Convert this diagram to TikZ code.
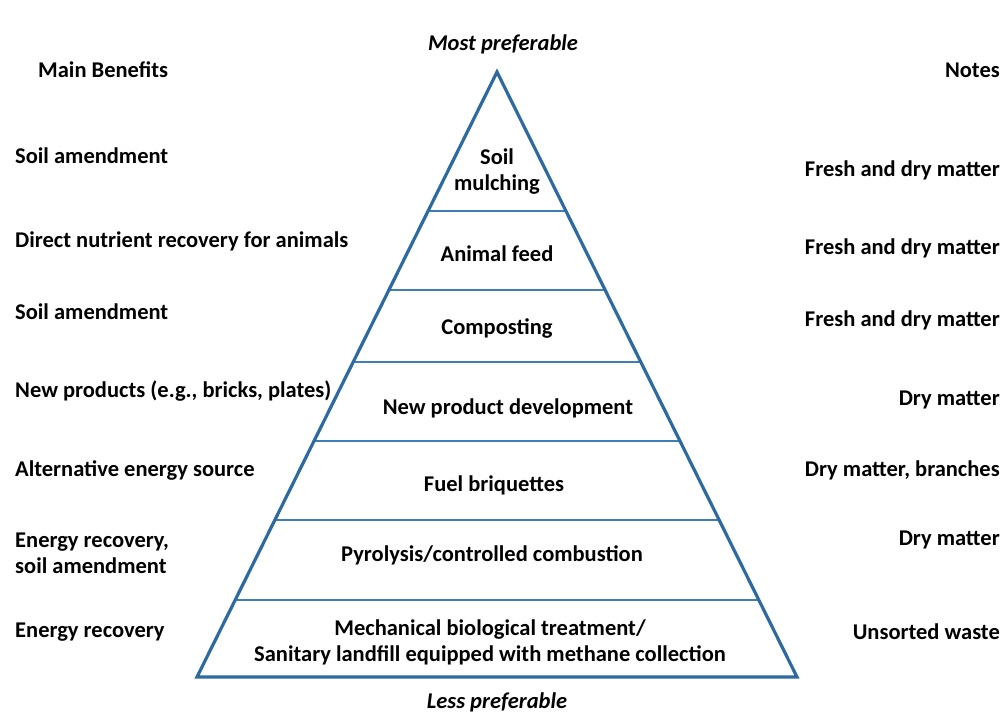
\documentclass[tikz,border=0pt]{standalone}
\usepackage{fontspec}
\setmainfont{Carlito}
\usetikzlibrary{calc}
\definecolor{edgeblue}{RGB}{45,106,159}
\definecolor{lineblue}{RGB}{62,125,182}
\tikzset{
  lbl/.style={font=\fontsize{22.5}{26}\selectfont\bfseries, inner sep=0pt},
  benefit/.style={lbl, anchor=west, align=left},
  note/.style={lbl, anchor=east, align=right},
  tier/.style={lbl, align=center},
}
\begin{document}
\begin{tikzpicture}[x=1pt,y=-1pt]
\useasboundingbox (0,0) rectangle (1004,713);

% pyramid
\coordinate (top) at (497,72);
\coordinate (bl) at (197,677);
\coordinate (br) at (797,677);
\foreach \y/\n in {211/a,290/b,362/c,441/d,520/e,600/f}{
  \coordinate (l\n) at ($(top)!{(\y-72)/605}!(bl)$);
  \coordinate (r\n) at ($(top)!{(\y-72)/605}!(br)$);
  \draw[lineblue, line width=2pt] (l\n) -- (r\n);
}
\draw[edgeblue, line width=3.2pt, line join=miter] (top) -- (bl) -- (br) -- cycle;

\node[lbl, font=\fontsize{22.5}{26}\selectfont\bfseries\itshape] (most) at (503,44) {Most preferable};
\node[lbl, font=\fontsize{22.5}{26}\selectfont\bfseries\itshape] (less) at (497,702) {Less preferable};

% headings
\node[benefit] (mainhead) at (38,70) {Main Benefits};
\node[note] (notehead) at (1000,70) {Notes};

% tiers
\node[tier] (mulch) at (497,172) {Soil\\mulching};
\node[tier] (feed) at (497,254) {Animal feed};
\node[tier] (compost) at (497,328) {Composting};
\node[tier] (newprod) at (508,408) {New product development};
\node[tier] (fuel) at (494,485) {Fuel briquettes};
\node[tier] (pyro) at (492,555) {Pyrolysis/controlled combustion};
\node[tier] (mbt) at (490,642) {Mechanical biological treatment/\\Sanitary landfill equipped with methane collection};

% benefits
\node[benefit] (b1) at (15,156) {Soil amendment};
\node[benefit] (b2) at (15,241) {Direct nutrient recovery for animals};
\node[benefit] (b3) at (15,312) {Soil amendment};
\node[benefit] (b4) at (15,391) {New products (e.g., bricks, plates)};
\node[benefit] (b5) at (15,470) {Alternative energy source};
\node[benefit] (b6) at (15,553) {Energy recovery,\\soil amendment};
\node[benefit] (b7) at (15,632) {Energy recovery};

% notes
\node[note] (n1) at (1000,170) {Fresh and dry matter};
\node[note] (n2) at (1000,248) {Fresh and dry matter};
\node[note] (n3) at (1000,320) {Fresh and dry matter};
\node[note] (n4) at (1000,400) {Dry matter};
\node[note] (n5) at (1000,470) {Dry matter, branches};
\node[note] (n6) at (1000,540) {Dry matter};
\node[note] (n7) at (1000,632) {Unsorted waste};
\end{tikzpicture}
\end{document}
